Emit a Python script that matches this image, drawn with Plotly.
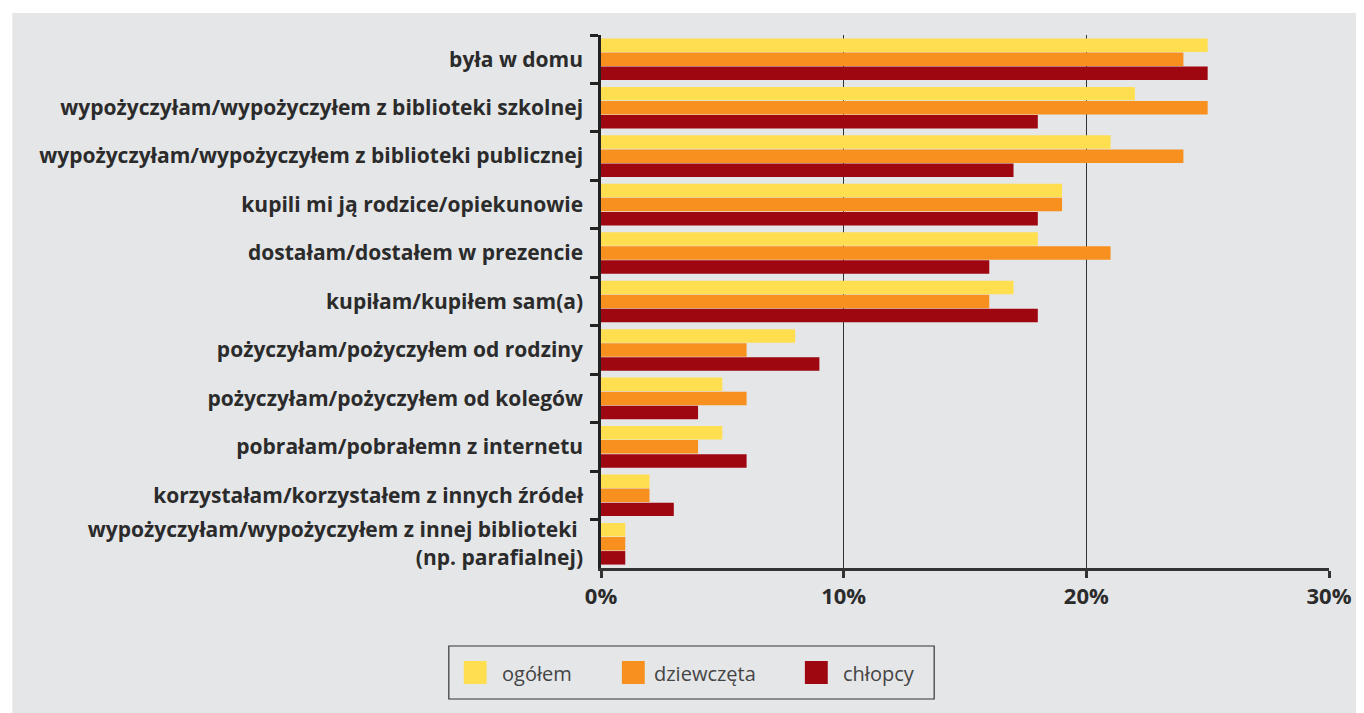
import plotly.graph_objects as go

categories = [
    "była w domu",
    "wypożyczyłam/wypożyczyłem z biblioteki szkolnej",
    "wypożyczyłam/wypożyczyłem z biblioteki publicznej",
    "kupili mi ją rodzice/opiekunowie",
    "dostałam/dostałem w prezencie",
    "kupiłam/kupiłem sam(a)",
    "pożyczyłam/pożyczyłem od rodziny",
    "pożyczyłam/pożyczyłem od kolegów",
    "pobrałam/pobrałemn z internetu",
    "korzystałam/korzystałem z innych źródeł",
    "wypożyczyłam/wypożyczyłem z innej biblioteki <br>(np. parafialnej)",
]
series_names = ["ogółem", "dziewczęta", "chłopcy"]
ogolem = [25, 22, 21, 19, 18, 17, 8, 5, 5, 2, 1]
dziewczeta = [24, 25, 24, 19, 21, 16, 6, 6, 4, 2, 1]
chlopcy = [25, 18, 17, 18, 16, 18, 9, 4, 6, 3, 1]
x_ticks = [0, 10, 20, 30]
x_tick_labels = ["0%", "10%", "20%", "30%"]
colors = ["#FFDE50", "#F7901F", "#9E0610"]

# page body has an 8px margin; figure coordinates = screen coordinates - 8
OFF = 8
W, H = 1364 - OFF, 713 - OFF
L, R, T, B = 601 - OFF, 1333 - OFF, 35 - OFF, 568 - OFF
pw, ph = R - L, B - T

def px_x(p):
    return (p - OFF - L) / pw

def px_y(p):
    return (B - (p - OFF)) / ph

fig = go.Figure()
for name, vals, c in zip(series_names, [ogolem, dziewczeta, chlopcy], colors):
    fig.add_trace(go.Bar(y=categories, x=vals, name=name, orientation="h",
                         marker=dict(color=c, line=dict(width=0)), showlegend=False))

bg = "#E5E6E8"
shapes = [
    dict(type="rect", xref="paper", yref="paper", x0=px_x(0), x1=px_x(1400), y0=px_y(0), y1=px_y(13),
         fillcolor="white", line=dict(width=0), layer="below"),
    dict(type="rect", xref="paper", yref="paper", x0=px_x(0), x1=px_x(9), y0=px_y(720), y1=px_y(0),
         fillcolor="white", line=dict(width=0), layer="below"),
    dict(type="rect", xref="paper", yref="paper", x0=px_x(448), x1=px_x(936), y0=px_y(699), y1=px_y(646),
         fillcolor="rgba(0,0,0,0)", line=dict(width=1.2, color="#333333")),
]
annotations = []
leg_sq_x = [463, 622, 806]
leg_tx_x = [499, 652, 842]
for i, (name, c) in enumerate(zip(series_names, colors)):
    shapes.append(dict(type="rect", xref="paper", yref="paper",
                       x0=px_x(leg_sq_x[i]), x1=px_x(leg_sq_x[i] + 23),
                       y0=px_y(684), y1=px_y(661), fillcolor=c, line=dict(width=0)))
    annotations.append(dict(xref="paper", yref="paper", x=px_x(leg_tx_x[i]), y=px_y(673),
                            xanchor="left", yanchor="middle", text=name, showarrow=False,
                            font=dict(family="Open Sans", size=20, color="#444444")))

fig.update_layout(
    width=W, height=H,
    margin=dict(l=L, r=W - R, t=T, b=H - B, pad=0),
    paper_bgcolor=bg, plot_bgcolor=bg,
    barmode="group", bargap=0.13, bargroupgap=0.04,
    shapes=shapes, annotations=annotations,
    font=dict(family="Open Sans", color="#2b2b2b"),
)
fig.update_xaxes(range=[0, 30], tickvals=x_ticks, ticktext=x_tick_labels,
                 showgrid=True, gridcolor="#333333", gridwidth=1, zeroline=False,
                 showline=True, linecolor="#333333", linewidth=2.5,
                 ticks="outside", ticklen=7, tickwidth=2.5, tickcolor="#333333",
                 tickfont=dict(family="Open Sans", size=22, color="#2b2b2b", weight="bold"))
fig.update_yaxes(autorange="reversed", categoryorder="array", categoryarray=categories,
                 showline=True, linecolor="#222222", linewidth=2.5,
                 ticks="outside", ticklen=8, tickwidth=2.5, tickcolor="#222222",
                 tickson="boundaries", showgrid=False, ticklabelstandoff=11,
                 tickfont=dict(family="Open Sans", size=21, color="#2b2b2b", weight="bold"))

fig.write_html("out.html")
